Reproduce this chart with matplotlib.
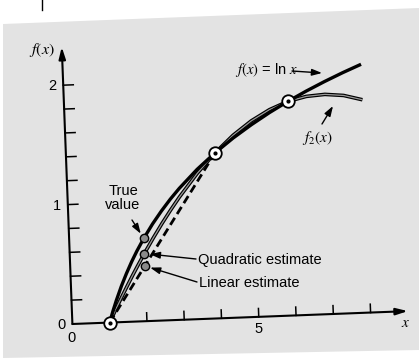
import matplotlib
matplotlib.use("Agg")
import matplotlib.pyplot as plt
from matplotlib.transforms import Affine2D
from matplotlib.patches import Polygon, FancyArrowPatch
import matplotlib.patheffects as pe

plt.rcParams['font.family'] = ['Liberation Sans', 'DejaVu Sans']
plt.rcParams['mathtext.fontset'] = 'stix'

# ---------------- data ----------------
x_nodes = [1, 4, 6]
ln_nodes = [0.0, 1.386, 1.792]

curve_x = [1, 1.1, 1.2, 1.35, 1.5, 1.65, 1.8, 2, 2.25, 2.5, 2.75, 3, 3.5,
           4, 4.5, 5, 5.5, 6, 6.5, 7, 7.5, 8]
ln_vals = [0.0, 0.095, 0.182, 0.300, 0.405, 0.501, 0.588, 0.693, 0.811,
           0.916, 1.012, 1.099, 1.253, 1.386, 1.504, 1.609, 1.705, 1.792,
           1.872, 1.946, 2.015, 2.079]
f2_vals = [0.0, 0.061, 0.122, 0.210, 0.296, 0.380, 0.461, 0.566, 0.691,
           0.810, 0.922, 1.028, 1.220, 1.386, 1.527, 1.641, 1.729, 1.792,
           1.828, 1.839, 1.824, 1.782]

lin_x = [1, 4]
lin_y = [0.0, 1.386]

x_est = 2
true_val = 0.693
quad_est = 0.566
lin_est = 0.462

x_ticks = [2, 3, 4, 5, 6, 7, 8]
y_ticks = [0.2, 0.4, 0.6, 0.8, 1.0, 1.2, 1.4, 1.6, 1.8, 2.0]

# ---------------- figure ----------------
W, H = 419, 361
fig = plt.figure(figsize=(W / 100, H / 100), dpi=100)
ax = fig.add_axes([0, 0, 1, 1])
ax.set_axis_off()

OX, OY = 72.4, 324.0   # image-pixel position of the origin
SX, SY = 37.3, 119.5   # pixels per unit
ax.set_xlim(-OX / SX, (W - OX) / SX)
ax.set_ylim((OY - H) / SY, OY / SY)
ANG = 2.2
tr = ax.transData + Affine2D().rotate_deg_around(OX, H - OY, ANG)

# speckled page background (approximated by light gray)
bg = Polygon([(3, H - 24), (W, H - 8), (W, H - 350), (3, H - 358)],
             closed=True, transform=Affine2D(), facecolor='#e3e3e3',
             edgecolor='none', zorder=0)
ax.add_patch(bg)
ax.plot([42, 42], [H - 0, H - 10], transform=Affine2D(), color='k', lw=1.0)

# axes with arrows
for p0, p1 in [((0, 0), (9.0, 0)), ((0, 0), (0, 2.32))]:
    ax.add_patch(FancyArrowPatch(p0, p1, transform=tr,
                                 arrowstyle='-|>,head_length=7,head_width=2',
                                 mutation_scale=1, lw=1.5, color='k',
                                 shrinkA=0, shrinkB=0, zorder=3))
for t in x_ticks:
    ax.plot([t, t], [0, 0.07], transform=tr, color='k', lw=1.1, zorder=3)
for t in y_ticks:
    ax.plot([0, 0.27], [t, t], transform=tr, color='k', lw=1.1, zorder=3)

# curves
ax.plot(curve_x, f2_vals, transform=tr, color='#9a9a9a', lw=0.9, zorder=4,
        solid_capstyle='butt', solid_joinstyle='round',
        path_effects=[pe.Stroke(linewidth=2.6, foreground='k'), pe.Normal()])
ax.plot(curve_x, ln_vals, transform=tr, color='k', lw=2.4, zorder=4,
        solid_capstyle='butt', solid_joinstyle='round')
ax.plot(lin_x, lin_y, transform=tr, color='k', lw=2.0, ls=(0, (3, 1.6)),
        zorder=4)

# nodes
ax.plot(x_nodes, ln_nodes, 'o', transform=tr, ms=9, mfc='white', mec='k',
        mew=1.3, zorder=6)
ax.plot(x_nodes, ln_nodes, 'o', transform=tr, ms=2, mfc='k', mec='k',
        zorder=7)

# estimate markers
ax.plot([x_est] * 3, [true_val, quad_est, lin_est], 'o', transform=tr, ms=6,
        mfc='#8a8a8a', mec='k', mew=1.0, zorder=6)

# ---------------- text ----------------
def fp(px, py):
    return (px, H - py)

def T(px, py, s, **kw):
    fig.text(px / W, 1 - py / H, s, **kw)

T(52, 86, '2', fontsize=10.5, ha='center', va='center')
T(57, 206, '1', fontsize=10.5, ha='center', va='center')
T(61, 325, '0', fontsize=10.5, ha='center', va='center')
T(72, 338, '0', fontsize=10.5, ha='center', va='center')
T(259, 329, '5', fontsize=10.5, ha='center', va='center')
T(406, 323, r'$x$', fontsize=11, ha='center', va='center')
T(42, 50, r'$f(x)$', fontsize=11.5, ha='center', va='center')

T(235, 70, r'$f(x)$ = ln $x$', fontsize=10.5, ha='left', va='center')
T(317, 138, r'$f_2(x)$', fontsize=11, ha='center', va='center')
T(123, 198, 'True\nvalue', fontsize=10.5, ha='center', va='center',
  linespacing=1.05)
T(198, 260, 'Quadratic estimate', fontsize=10.5, ha='left', va='center')
T(199, 283, 'Linear estimate', fontsize=10.5, ha='left', va='center')

arr = dict(arrowstyle='-|>,head_length=0.6,head_width=0.2', color='k',
           lw=1.0, mutation_scale=10, shrinkA=0)

ax.annotate('', xy=fp(322, 73), xycoords='figure pixels',
            xytext=fp(292, 71), textcoords='figure pixels',
            arrowprops=dict(arr, shrinkB=0))
ax.annotate('', xy=fp(333, 106), xycoords='figure pixels',
            xytext=fp(322, 124), textcoords='figure pixels',
            arrowprops=dict(arr, shrinkB=0))
ax.annotate('', xy=(x_est, true_val), xycoords=tr,
            xytext=fp(132, 220), textcoords='figure pixels',
            arrowprops=dict(arr, shrinkB=4))
ax.annotate('', xy=(x_est, quad_est), xycoords=tr,
            xytext=fp(196, 259), textcoords='figure pixels',
            arrowprops=dict(arr, shrinkB=4))
ax.annotate('', xy=(x_est, lin_est), xycoords=tr,
            xytext=fp(197, 282), textcoords='figure pixels',
            arrowprops=dict(arr, shrinkB=4))

fig.savefig('out.png', dpi=100)
